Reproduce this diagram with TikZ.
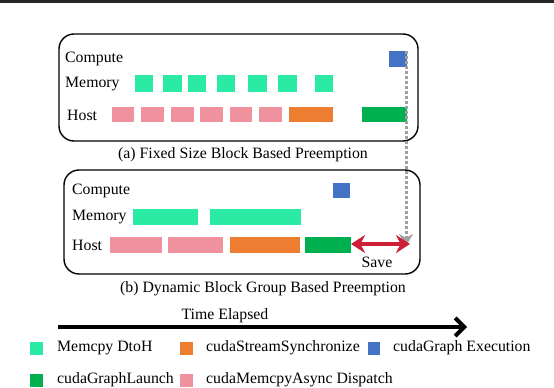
\documentclass[tikz,border=0pt]{standalone}
\usepackage{fontspec}
\setmainfont{Liberation Serif}
\usetikzlibrary{arrows.meta}
\definecolor{mint}{HTML}{2BEAA3}
\definecolor{orng}{HTML}{ED7D31}
\definecolor{blu}{HTML}{4472C4}
\definecolor{grn}{HTML}{00B050}
\definecolor{pnk}{HTML}{F0929E}
\definecolor{redarr}{HTML}{CE1F38}
\definecolor{grayarr}{HTML}{A0A0A0}
\newcommand{\blk}[6]{\node[blk,fill=#1,anchor=north west,minimum width={(#4-#3)*1pt},minimum height={(#6-#5)*1pt}] (#2) at (#3,#5) {};}
\begin{document}
\begin{tikzpicture}[x=1pt,y=-1pt,
  every node/.style={font=\fontsize{15.8pt}{18pt}\selectfont},
  blk/.style={draw=white,line width=0.5pt,inner sep=0pt,outer sep=0pt},
  lbl/.style={anchor=west,inner sep=0pt},
  panel/.style={draw=black,line width=1.4pt,rounded corners=15pt},
  lgd/.style={anchor=west,inner sep=0pt}]
\useasboundingbox (0,0) rectangle (554,388);
\fill[black!85] (0,0) rectangle (554,2.8);
% panel (a)
\draw[panel] (59,34) rectangle (418,141);
\node[lbl] (ac) at (65,59) {Compute};
\node[lbl] (am) at (65,84) {Memory};
\node[lbl] (ah) at (67,115) {Host};
\blk{blu}{acb}{388}{407}{50}{67}
\blk{mint}{am1}{134}{153}{74}{92}
\blk{mint}{am2}{162}{182}{74}{92}
\blk{mint}{am3}{187}{206}{74}{92}
\blk{mint}{am4}{216}{235}{74}{92}
\blk{mint}{am5}{247}{267}{74}{92}
\blk{mint}{am6}{277}{297}{74}{92}
\blk{mint}{am7}{314}{333}{74}{92}
\blk{pnk}{ah1}{111}{134}{106}{122}
\blk{pnk}{ah2}{140}{164}{106}{122}
\blk{pnk}{ah3}{170}{194}{106}{122}
\blk{pnk}{ah4}{199}{223}{106}{122}
\blk{pnk}{ah5}{229}{252}{106}{122}
\blk{pnk}{ah6}{258}{282}{106}{122}
\blk{orng}{ah7}{288}{333}{106}{122}
\blk{grn}{ah8}{361}{407}{106}{122}
\node (capa) at (243,155) {(a) Fixed Size Block Based Preemption};
% panel (b)
\draw[panel] (64,170) rectangle (420,274);
\node[lbl] (bc) at (72,191) {Compute};
\node[lbl] (bm) at (72,217) {Memory};
\node[lbl] (bh) at (72,245) {Host};
\blk{blu}{bcb}{332}{350}{182}{198}
\blk{mint}{bm1}{132}{198}{208}{225}
\blk{mint}{bm2}{209}{301}{208}{225}
\blk{pnk}{bh1}{109}{162}{236}{253}
\blk{pnk}{bh2}{167}{223}{236}{253}
\blk{orng}{bh3}{229}{300}{236}{253}
\blk{grn}{bh4}{304}{351}{236}{253}
\coordinate (gtop) at (406,51);
\coordinate (gend) at (406,246);
\coordinate (send) at (410,244);
\draw[grayarr,line width=3pt,dash pattern=on 3pt off 2pt,-{Stealth[length=12pt,width=14pt]}] (gtop) -- (gend);
\draw[redarr,line width=3.6pt,{Stealth[length=14pt,width=18pt]}-{Stealth[length=14pt,width=18pt]}] (bh4.east |- send) -- (send);
\node (save) at (377,262) {Save};
\node (capb) at (263,289) {(b) Dynamic Block Group Based Preemption};
% time axis
\node (te) at (225,316) {Time Elapsed};
\coordinate (ts) at (58,327);
\coordinate (tend) at (467,327);
\draw[black,line width=4pt,-{Straight Barb[length=9pt,width=18pt]}] (ts) -- (tend);
% legend
\blk{mint}{l1}{29}{43}{341}{355}
\node[lgd] (t1) at (57,348) {Memcpy DtoH};
\blk{orng}{l2}{179}{193}{341}{355}
\node[lgd] (t2) at (206,348) {cudaStreamSynchronize};
\blk{blu}{l3}{367}{380}{341}{355}
\node[lgd] (t3) at (393,348) {cudaGraph Execution};
\blk{grn}{l4}{29}{43}{373}{387}
\node[lgd] (t4) at (57,380) {cudaGraphLaunch};
\blk{pnk}{l5}{179}{193}{373}{387}
\node[lgd] (t5) at (206,380) {cudaMemcpyAsync Dispatch};
\end{tikzpicture}
\end{document}
